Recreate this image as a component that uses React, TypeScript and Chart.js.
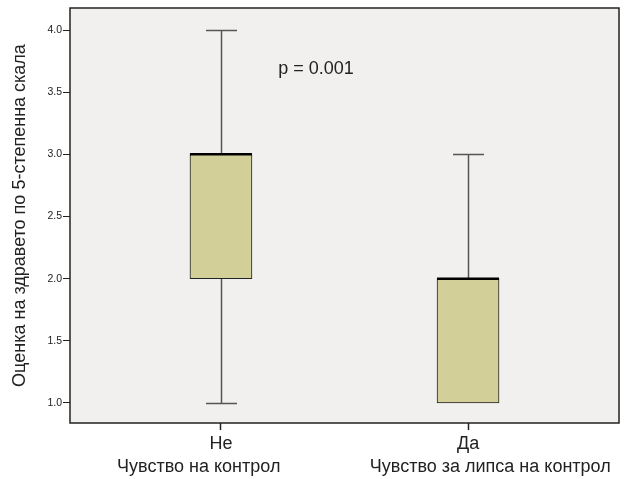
import React, { useEffect, useRef } from 'react';
import { Chart, registerables } from 'chart.js';

Chart.register(...registerables);

// ---- data ----
const categories = ['Не', 'Да'];
const groupLabels = ['Чувство на контрол', 'Чувство за липса на контрол'];
const mins = [1, 1];
const q1s = [2, 1];
const medians = [3, 2];
const q3s = [3, 2];
const maxs = [4, 3];
const yTickValues = [1.0, 1.5, 2.0, 2.5, 3.0, 3.5, 4.0];
const yTitle = 'Оценка на здравето по 5-степенна скала';
const annotationText = 'p = 0.001';
const annotationX = 0.385;
const annotationY = 3.69;

const FONT = "Arial, 'Liberation Sans', sans-serif";

const boxPlugin = {
  id: 'boxExtras',
  beforeDraw(chart: any) {
    const { ctx, chartArea: a } = chart;
    ctx.save();
    ctx.fillStyle = '#f1f0ee';
    ctx.fillRect(a.left, a.top, a.right - a.left, a.bottom - a.top);
    ctx.restore();
  },
  beforeDatasetsDraw(chart: any) {
    const { ctx } = chart;
    const xs = chart.scales.x;
    const ys = chart.scales.y;
    const meta = chart.getDatasetMeta(0);
    ctx.save();
    ctx.strokeStyle = '#555';
    ctx.lineWidth = 1.5;
    categories.forEach((_, i) => {
      const x = Math.round(xs.getPixelForValue(i)) + 0.5;
      const w = meta.data[i] ? meta.data[i].width : 62;
      const cap = w / 4;
      const segs: [number, number][] = [];
      if (maxs[i] > q3s[i]) segs.push([q3s[i], maxs[i]]);
      if (mins[i] < q1s[i]) segs.push([q1s[i], mins[i]]);
      segs.forEach(([from, to]) => {
        const yFrom = ys.getPixelForValue(from);
        const yTo = ys.getPixelForValue(to);
        ctx.beginPath();
        ctx.moveTo(x, yFrom);
        ctx.lineTo(x, yTo);
        ctx.stroke();
        ctx.beginPath();
        ctx.moveTo(x - cap, Math.round(yTo) + 0.5);
        ctx.lineTo(x + cap, Math.round(yTo) + 0.5);
        ctx.stroke();
      });
    });
    ctx.restore();
  },
  afterDatasetsDraw(chart: any) {
    const { ctx } = chart;
    const xs = chart.scales.x;
    const ys = chart.scales.y;
    const meta = chart.getDatasetMeta(0);
    ctx.save();
    ctx.strokeStyle = '#000';
    ctx.lineWidth = 2.5;
    categories.forEach((_, i) => {
      const x = xs.getPixelForValue(i);
      const w = meta.data[i] ? meta.data[i].width : 62;
      const y = ys.getPixelForValue(medians[i]);
      ctx.beginPath();
      ctx.moveTo(x - w / 2, y);
      ctx.lineTo(x + w / 2, y);
      ctx.stroke();
    });
    // annotation
    ctx.fillStyle = '#222';
    ctx.font = `18px ${FONT}`;
    ctx.textAlign = 'center';
    ctx.textBaseline = 'middle';
    ctx.fillText(annotationText, xs.getPixelForValue(annotationX), ys.getPixelForValue(annotationY));
    ctx.restore();
  },
  afterDraw(chart: any) {
    const { ctx, chartArea: a } = chart;
    const xs = chart.scales.x;
    ctx.save();
    ctx.strokeStyle = '#222';
    ctx.lineWidth = 1.5;
    ctx.strokeRect(a.left, a.top, a.right - a.left, a.bottom - a.top);
    // group labels under the category labels (spread outward like the original)
    const mid = (a.left + a.right) / 2;
    ctx.fillStyle = '#222';
    ctx.font = `18px ${FONT}`;
    ctx.textAlign = 'center';
    ctx.textBaseline = 'middle';
    groupLabels.forEach((lbl, i) => {
      const x = xs.getPixelForValue(i);
      ctx.fillText(lbl, mid + (x - mid) * 1.18, a.bottom + 44);
    });
    ctx.restore();
  },
};

export default function App() {
  const ref = useRef<HTMLCanvasElement>(null);
  useEffect(() => {
    document.body.style.margin = '0';
    if (!ref.current) return;
    const chart = new Chart(ref.current, {
      type: 'bar',
      data: {
        datasets: [
          {
            data: categories.map((_, i) => ({ x: i, y: [q1s[i], q3s[i]] })) as any,
            backgroundColor: '#d3cf98',
            borderColor: '#222',
            borderWidth: 1,
            borderSkipped: false,
            barThickness: 62,
          },
        ],
      },
      options: {
        animation: false,
        responsive: false,
        maintainAspectRatio: false,
        layout: { padding: { top: 8, right: 7, left: 0, bottom: 0 } },
        plugins: { legend: { display: false }, tooltip: { enabled: false } },
        scales: {
          x: {
            type: 'linear',
            offset: false,
            min: -0.611,
            max: 1.611,
            afterBuildTicks(scale: any) {
              scale.ticks = categories.map((_, i) => ({ value: i }));
            },
            afterFit(scale: any) {
              scale.height = 56;
            },
            grid: { offset: false, drawOnChartArea: false, tickLength: 7, color: '#222', tickWidth: 1.5 },
            border: { display: false },
            ticks: {
              autoSkip: false,
              maxRotation: 0,
              padding: 3,
              color: '#222',
              font: { size: 18, family: FONT, lineHeight: 1.2 },
              callback: (v: any) => categories[v as number] ?? '',
            },
          },
          y: {
            type: 'linear',
            min: 0.839,
            max: 4.177,
            afterBuildTicks(scale: any) {
              scale.ticks = yTickValues.map((v) => ({ value: v }));
            },
            afterFit(scale: any) {
              scale.width = 70;
            },
            grid: { drawOnChartArea: false, tickLength: 7, color: '#222', tickWidth: 1 },
            border: { display: false },
            ticks: {
              padding: 1,
              color: '#222',
              font: { size: 10.5, family: FONT },
              callback: (v: any) => Number(v).toFixed(1),
            },
            title: {
              display: true,
              text: yTitle,
              color: '#222',
              font: { size: 18, family: FONT, lineHeight: 1.2 },
              padding: { top: 9, bottom: 0 },
            },
          },
        },
      },
      plugins: [boxPlugin],
    });
    return () => chart.destroy();
  }, []);
  return (
    <canvas ref={ref} width={626} height={479} style={{ display: 'block', width: 626, height: 479 }} />
  );
}
